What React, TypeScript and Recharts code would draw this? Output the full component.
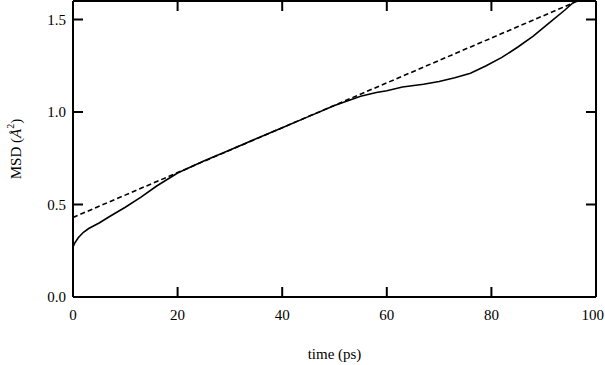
import { LineChart, Line, XAxis, YAxis, Label } from 'recharts';

// MSD curve (time in ps, MSD in Å²)
const solidTime = [0, 0, 0.3, 1, 2, 3, 5, 7, 10, 13, 16, 20, 25, 30, 35, 40, 45, 50, 55, 58, 60, 63, 67, 70, 73, 76, 79, 82, 85, 88, 91, 94, 96];
const solidMsd = [0, 0.27, 0.29, 0.32, 0.35, 0.37, 0.4, 0.435, 0.485, 0.54, 0.6, 0.67, 0.735, 0.795, 0.855, 0.915, 0.975, 1.035, 1.085, 1.105, 1.115, 1.135, 1.15, 1.165, 1.185, 1.21, 1.25, 1.295, 1.35, 1.41, 1.48, 1.55, 1.6];

// linear fit (dashed)
const fitTime = [0, 96.5];
const fitMsd = [0.43, 1.6];

const xTicks = [0, 20, 40, 60, 80, 100];
const yTicks = [0, 0.5, 1.0, 1.5];

const solidData = solidTime.map((t, i) => ({ t, msd: solidMsd[i] }));
const fitData = fitTime.map((t, i) => ({ t, msd: fitMsd[i] }));

const font = '"Liberation Serif", "DejaVu Serif", serif';
const axisStroke = { stroke: '#000', strokeWidth: 2 };
const TICK = 10;
const CHART_W = 605;

// inward tick marks drawn by hand, label optional
const makeTick = (side: 'bottom' | 'top' | 'left' | 'right', showLabel: boolean) => (props: any) => {
  const { x, y, payload } = props;
  let line;
  if (side === 'bottom') line = <line x1={x} y1={y} x2={x} y2={y - TICK} stroke="#000" strokeWidth={2} />;
  else if (side === 'top') line = <line x1={x} y1={y} x2={x} y2={y + TICK} stroke="#000" strokeWidth={2} />;
  else if (side === 'left') line = <line x1={x} y1={y} x2={x + TICK} y2={y} stroke="#000" strokeWidth={2} />;
  else line = <line x1={x} y1={y} x2={x - TICK} y2={y} stroke="#000" strokeWidth={2} />;
  let label = null;
  if (showLabel && side === 'bottom') {
    // keep the last label inside the picture
    const nearEdge = x + 11 > CHART_W - 1;
    label = (
      <text
        x={nearEdge ? CHART_W - 1 : x}
        y={y + 23}
        textAnchor={nearEdge ? 'end' : 'middle'}
        fontFamily={font}
        fontSize={15}
        fill="#000"
      >
        {payload.value}
      </text>
    );
  } else if (showLabel && side === 'left') {
    label = (
      <text x={x - 7} y={y} dy="0.35em" textAnchor="end" fontFamily={font} fontSize={15} fill="#000">
        {Number(payload.value).toFixed(1)}
      </text>
    );
  }
  return (
    <g>
      {line}
      {label}
    </g>
  );
};

const YLabel = (props: any) => {
  const vb = props.viewBox || { x: 0, y: 0, height: 0 };
  const cx = 16;
  const cy = vb.y + vb.height / 2;
  return (
    <text
      x={cx}
      y={cy}
      transform={`rotate(-90, ${cx}, ${cy})`}
      textAnchor="middle"
      dominantBaseline="central"
      fontFamily={font}
      fontSize={15}
      fill="#000"
    >
      MSD (<tspan fontStyle="italic">Å</tspan>
      <tspan dy={-6} fontSize={10}>2</tspan>
      <tspan dy={6}>)</tspan>
    </text>
  );
};

const XLabel = (props: any) => {
  const vb = props.viewBox || { x: 0, y: 0, width: 0 };
  return (
    <text x={vb.x + vb.width / 2} y={359} textAnchor="middle" fontFamily={font} fontSize={15} fill="#000">
      time (ps)
    </text>
  );
};

const App = () => {
  return (
    <div style={{ position: 'absolute', left: 0, top: 0, background: '#fff' }}>
      <LineChart width={CHART_W} height={365} margin={{ top: 0, right: 8, left: 0, bottom: 0 }}>
        <XAxis
          xAxisId="b"
          dataKey="t"
          type="number"
          domain={[0, 100]}
          ticks={xTicks}
          interval={0}
          height={68}
          axisLine={axisStroke}
          tickLine={false}
          tickSize={0}
          tickMargin={0}
          tick={makeTick('bottom', true)}
          allowDataOverflow
        >
          <Label content={XLabel} />
        </XAxis>
        <XAxis
          xAxisId="t"
          dataKey="t"
          orientation="top"
          type="number"
          domain={[0, 100]}
          ticks={xTicks}
          interval={0}
          height={1}
          axisLine={axisStroke}
          tickLine={false}
          tickSize={0}
          tickMargin={0}
          tick={makeTick('top', false)}
          allowDataOverflow
        />
        <YAxis
          yAxisId="l"
          type="number"
          domain={[0, 1.6]}
          ticks={yTicks}
          interval={0}
          width={73}
          axisLine={axisStroke}
          tickLine={false}
          tickSize={0}
          tickMargin={0}
          tick={makeTick('left', true)}
          allowDataOverflow
        >
          <Label content={YLabel} />
        </YAxis>
        <YAxis
          yAxisId="r"
          orientation="right"
          type="number"
          domain={[0, 1.6]}
          ticks={yTicks}
          interval={0}
          width={1}
          axisLine={axisStroke}
          tickLine={false}
          tickSize={0}
          tickMargin={0}
          tick={makeTick('right', false)}
          allowDataOverflow
        />
        <Line
          xAxisId="t"
          yAxisId="r"
          data={fitData}
          dataKey="msd"
          type="linear"
          stroke="#000"
          strokeWidth={1.6}
          strokeDasharray="5 3"
          dot={false}
          isAnimationActive={false}
        />
        <Line
          xAxisId="b"
          yAxisId="l"
          data={solidData}
          dataKey="msd"
          type="linear"
          stroke="#000"
          strokeWidth={1.6}
          dot={false}
          isAnimationActive={false}
        />
      </LineChart>
    </div>
  );
};

export default App;
